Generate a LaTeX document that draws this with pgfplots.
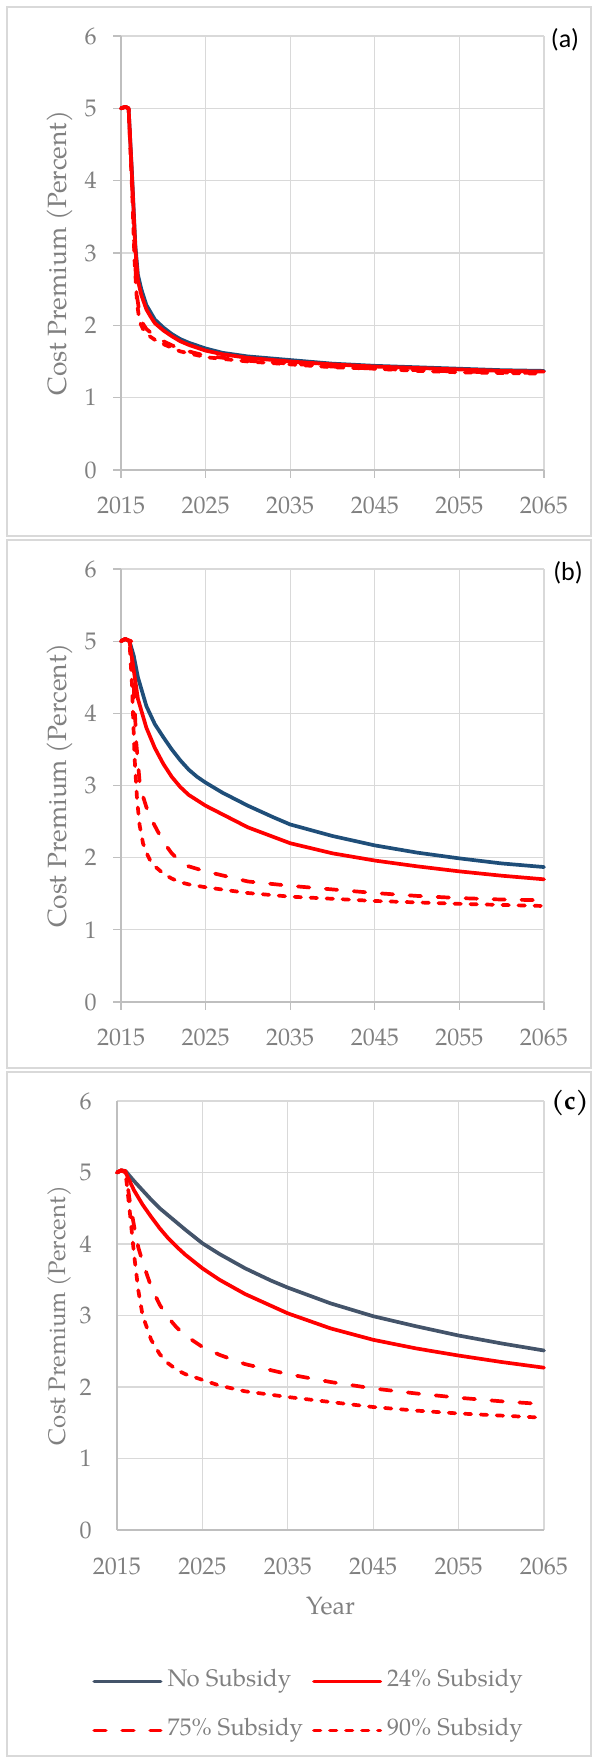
\documentclass[border=0pt]{standalone}
\usepackage{fontspec}
\setmainfont{TeX Gyre Pagella}
\newfontfamily\calibri{Carlito}
\usepackage{pgfplots}
\pgfplotsset{compat=1.18}
\definecolor{framegray}{HTML}{D9D9D9}
\definecolor{gridgray}{HTML}{D9D9D9}
\definecolor{axisgray}{HTML}{BFBFBF}
\definecolor{labelgray}{HTML}{808080}
\definecolor{navy}{HTML}{1F4E79}
\definecolor{slate}{HTML}{44546A}
\definecolor{myred}{HTML}{FF0000}
\newcommand{\tickfont}{\fontsize{12}{14}\selectfont}
\tikzset{dashA/.style={dash pattern=on 5.75pt off 8.25pt}, dashB/.style={dash pattern=on 3.25pt off 4.75pt}}
\pgfplotsset{panel/.style={
  scale only axis, xmin=2015, xmax=2065, ymin=0, ymax=6,
  xtick={2015,2025,2035,2045,2055,2065}, ytick={0,1,2,3,4,5,6},
  axis lines=left, axis line style={-, draw=axisgray, line width=0.65pt},
  grid=major, major grid style={draw=gridgray, line width=0.6pt},
  tick style={draw=axisgray, line width=0.65pt},
  tick align=outside, major tick length=4pt,
  /pgf/number format/assume math mode=true,
  /pgf/number format/1000 sep={},
  tick label style={font=\tickfont, text=labelgray, inner sep=0pt},
  ylabel={Cost Premium (Percent)},
  clip=false,
  every axis plot/.append style={line width=1.85pt, line join=round, line cap=round},
}}
\begin{document}
\begin{tikzpicture}
\path[use as bounding box] (0,0) rectangle (296pt,879pt);
\draw[framegray, line width=0.85pt] (3.5pt,611pt) rectangle (295.5pt,875.5pt);
\draw[framegray, line width=0.85pt] (3.5pt,345pt) rectangle (295.5pt,609pt);
\draw[framegray, line width=0.85pt] (3.5pt,1pt) rectangle (295.5pt,343pt);

% ---------------- panel (a)
\begin{axis}[panel, at={(60.5pt,644pt)}, anchor=south west, width=211.5pt, height=217pt,
  yticklabel style={anchor=east, xshift=-8pt},
  xticklabel style={anchor=north, yshift=-9.25pt},
  ylabel style={at={(axis description cs:-0.1442,0.5)}, anchor=center,
    font=\fontsize{13.2}{15}\selectfont, text=labelgray}]
\addplot[navy] coordinates {(2015,5) (2015.5,5.02) (2015.9,5.0) (2016.3,4.1) (2016.7,3.1) (2017,2.7) (2017.4,2.5) (2018,2.28) (2018.5,2.18) (2019,2.08) (2020,1.97) (2021,1.88) (2022,1.81) (2023,1.76) (2025,1.68) (2027,1.62) (2030,1.57) (2035,1.52) (2040,1.47) (2045,1.44) (2050,1.42) (2055,1.40) (2060,1.38) (2065,1.37)};
\addplot[myred] coordinates {(2015,5) (2015.5,5.02) (2015.9,5.0) (2016.3,4.05) (2016.7,3.05) (2017,2.62) (2017.4,2.42) (2018,2.22) (2018.5,2.12) (2019,2.03) (2020,1.93) (2021,1.85) (2022,1.78) (2023,1.73) (2025,1.65) (2027,1.6) (2030,1.55) (2035,1.50) (2040,1.46) (2045,1.43) (2050,1.41) (2055,1.39) (2060,1.37) (2065,1.36)};
\addplot[myred, dashA] coordinates {(2015,5) (2015.5,5.02) (2015.9,5.0) (2016.3,4.0) (2016.6,3.0) (2016.9,2.4) (2017.2,2.15) (2017.6,2.02) (2018,1.95) (2019,1.85) (2020,1.78) (2022,1.67) (2025,1.58) (2030,1.51) (2035,1.47) (2040,1.43) (2045,1.40) (2050,1.38) (2055,1.36) (2060,1.35) (2065,1.34)};
\addplot[myred, dashB] coordinates {(2015,5) (2015.5,5.02) (2015.9,5.0) (2016.3,3.9) (2016.6,2.9) (2016.9,2.3) (2017.2,2.05) (2017.6,1.95) (2018,1.88) (2019,1.8) (2020,1.74) (2022,1.64) (2025,1.56) (2030,1.5) (2035,1.46) (2040,1.42) (2045,1.4) (2050,1.37) (2055,1.35) (2060,1.34) (2065,1.33)};
\end{axis}
\node[font=\calibri\fontsize{13}{15}\selectfont] at (282.5pt,859pt) {(a)};

% ---------------- panel (b)
\begin{axis}[panel, at={(60.5pt,378pt)}, anchor=south west, width=211.5pt, height=216.5pt,
  yticklabel style={anchor=east, xshift=-8pt},
  xticklabel style={anchor=north, yshift=-9.25pt},
  ylabel style={at={(axis description cs:-0.1442,0.5)}, anchor=center,
    font=\fontsize{13.2}{15}\selectfont, text=labelgray}]
\addplot[navy] coordinates {(2015,5) (2015.5,5.03) (2016,5.0) (2016.5,4.8) (2017,4.5) (2018,4.1) (2019,3.85) (2020,3.67) (2021,3.5) (2022,3.35) (2023,3.22) (2024,3.12) (2025,3.04) (2027,2.9) (2030,2.72) (2033,2.56) (2035,2.46) (2040,2.3) (2045,2.17) (2050,2.07) (2055,1.99) (2060,1.92) (2065,1.87)};
\addplot[myred] coordinates {(2015,5) (2015.5,5.03) (2016,5.0) (2016.5,4.6) (2017,4.2) (2018,3.8) (2019,3.52) (2020,3.3) (2021,3.12) (2022,2.98) (2023,2.87) (2025,2.72) (2027,2.6) (2030,2.42) (2035,2.2) (2040,2.06) (2045,1.96) (2050,1.88) (2055,1.81) (2060,1.75) (2065,1.70)};
\addplot[myred, dashA] coordinates {(2015,5) (2015.5,5.03) (2016.2,5.0) (2016.5,4.4) (2016.8,3.6) (2017.2,3.05) (2017.6,2.85) (2018,2.7) (2018.5,2.55) (2019,2.44) (2020,2.22) (2021,2.06) (2022,1.95) (2023,1.88) (2025,1.81) (2030,1.67) (2035,1.61) (2040,1.56) (2045,1.51) (2050,1.47) (2055,1.44) (2060,1.42) (2065,1.41)};
\addplot[myred, dashB] coordinates {(2015,5) (2015.5,5.03) (2016,5.0) (2016.3,4.4) (2016.6,3.4) (2016.9,2.8) (2017.2,2.45) (2017.6,2.2) (2018,2.07) (2018.5,1.95) (2019,1.88) (2020,1.78) (2021,1.71) (2022,1.66) (2023,1.63) (2025,1.59) (2030,1.51) (2035,1.46) (2040,1.43) (2045,1.40) (2050,1.38) (2055,1.36) (2060,1.345) (2065,1.33)};
\end{axis}
\node[font=\calibri\fontsize{13}{15}\selectfont] at (284pt,592.5pt) {(b)};

% ---------------- panel (c)
\begin{axis}[panel, at={(58.5pt,114pt)}, anchor=south west, width=213.5pt, height=214.5pt,
  major tick length=0pt,
  yticklabel style={anchor=east, xshift=-12.5pt},
  xticklabel style={anchor=north, yshift=-13.75pt},
  ylabel style={at={(axis description cs:-0.1335,0.5)}, anchor=center,
    font=\fontsize{12}{14}\selectfont, text=labelgray},
  xlabel={Year},
  xlabel style={at={(axis description cs:0.5,-0.1772)}, anchor=center,
    font=\fontsize{12.5}{15}\selectfont, text=labelgray},
  legend columns=2, legend cell align=left,
  legend image code/.code={\draw[#1] (0.9pt,0pt) -- (34.1pt,0pt);},
  legend style={at={(axis description cs:-0.0585,-0.3275)}, anchor=north west,
    draw=none, fill=none, inner sep=0pt, font=\tickfont, text=labelgray,
    nodes={inner sep=0pt, text height=8pt, text depth=2.5pt, anchor=west},
    row sep=14pt,
    /tikz/every odd column/.append style={column sep=2.5pt},
    /tikz/every even column/.append style={column sep=4.5pt}}]
\addplot[slate] coordinates {(2015,5) (2015.5,5.03) (2016,5.02) (2017,4.88) (2018,4.75) (2019,4.62) (2020,4.5) (2021,4.4) (2022,4.3) (2023,4.2) (2025,4.01) (2027,3.86) (2030,3.66) (2033,3.49) (2035,3.39) (2040,3.17) (2045,2.99) (2050,2.85) (2055,2.72) (2060,2.61) (2065,2.51)};
\addlegendentry{No Subsidy}
\addplot[myred] coordinates {(2015,5) (2015.5,5.03) (2016,5.0) (2017,4.75) (2018,4.55) (2019,4.38) (2020,4.22) (2021,4.08) (2022,3.96) (2023,3.85) (2025,3.66) (2027,3.5) (2030,3.3) (2035,3.03) (2040,2.82) (2045,2.66) (2050,2.54) (2055,2.44) (2060,2.35) (2065,2.27)};
\addlegendentry{24\% Subsidy}
\addplot[myred, dashA] coordinates {(2015,5) (2015.5,5.03) (2016,5.02) (2016.5,4.6) (2017,4.25) (2017.5,3.95) (2018,3.75) (2019,3.4) (2020,3.15) (2021,2.97) (2022,2.83) (2023,2.72) (2025,2.56) (2027,2.45) (2030,2.32) (2035,2.18) (2040,2.07) (2045,1.98) (2050,1.91) (2055,1.85) (2060,1.8) (2065,1.76)};
\addlegendentry{75\% Subsidy}
\addplot[myred, dashB] coordinates {(2015,5) (2015.5,5.03) (2016,5.0) (2016.5,4.45) (2017,3.85) (2017.5,3.35) (2018,3.0) (2019,2.66) (2020,2.46) (2021,2.33) (2022,2.24) (2023,2.18) (2025,2.1) (2027,2.02) (2030,1.94) (2035,1.86) (2040,1.79) (2045,1.72) (2050,1.67) (2055,1.63) (2060,1.6) (2065,1.57)};
\addlegendentry{90\% Subsidy}
\end{axis}
\node[font=\bfseries\fontsize{13}{15}\selectfont] at (285pt,327.5pt) {(c)};
\end{tikzpicture}
\end{document}
